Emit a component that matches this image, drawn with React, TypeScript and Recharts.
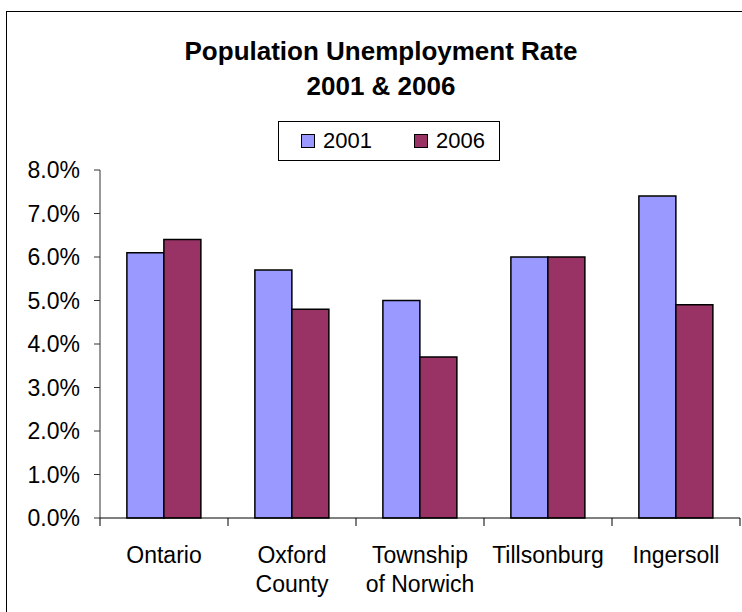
import React from 'react';
import { BarChart, Bar, XAxis, YAxis } from 'recharts';

const categories = ['Ontario', 'Oxford\nCounty', 'Township\nof Norwich', 'Tillsonburg', 'Ingersoll'];
const rate2001 = [6.1, 5.7, 5.0, 6.0, 7.4];
const rate2006 = [6.4, 4.8, 3.7, 6.0, 4.9];
const yTicks = [0, 1, 2, 3, 4, 5, 6, 7, 8];
const seriesNames = ['2001', '2006'];
const colors = ['#9999FF', '#993366'];

const data = categories.map((c, i) => ({ name: c, y2001: rate2001[i], y2006: rate2006[i] }));

const FONT = 'Arial, "Liberation Sans", sans-serif';

const XTick = (props: any) => {
  const { x, y, payload, width, visibleTicksCount, index } = props;
  const band = width / visibleTicksCount;
  const lines = String(payload.value).split('\n');
  const axisY = y - 8;
  return (
    <g>
      <line x1={x - band / 2} x2={x - band / 2} y1={axisY} y2={axisY + 8} stroke="#000" />
      {index === visibleTicksCount - 1 && (
        <line x1={x + band / 2} x2={x + band / 2} y1={axisY} y2={axisY + 8} stroke="#000" />
      )}
      <text x={x} y={axisY + 45} textAnchor="middle" fontFamily={FONT} fontSize={23} fill="#000">
        {lines.map((l, i) => (
          <tspan key={i} x={x} dy={i === 0 ? 0 : 29}>{l}</tspan>
        ))}
      </text>
    </g>
  );
};

const LegendBox = () => (
  <div
    style={{
      position: 'absolute',
      left: 278,
      top: 121,
      width: 220,
      height: 38,
      border: '1px solid #000',
      background: '#fff',
      display: 'flex',
      alignItems: 'center',
      fontFamily: FONT,
      fontSize: 22,
    }}
  >
    {seriesNames.map((n, i) => (
      <div key={n} style={{ display: 'flex', alignItems: 'center', marginLeft: i === 0 ? 22 : 42 }}>
        <div style={{ width: 12, height: 12, background: colors[i], border: '1px solid #000', marginRight: 8 }} />
        <span>{n}</span>
      </div>
    ))}
  </div>
);

export default function App() {
  return (
    <div style={{ position: 'absolute', left: 0, top: 0, width: 742, height: 612, overflow: 'hidden', background: '#fff' }}>
      <div style={{ position: 'absolute', left: 6, top: 11, width: 800, height: 700, border: '1px solid #000' }} />
      <div
        style={{
          position: 'absolute',
          left: 0,
          top: 34,
          width: 762,
          textAlign: 'center',
          fontFamily: FONT,
          fontWeight: 'bold',
          fontSize: 26,
          lineHeight: '35px',
        }}
      >
        Population Unemployment Rate
        <br />
        2001 &amp; 2006
      </div>
      <div style={{ position: 'absolute', left: 0, top: 0 }}>
        <BarChart
          width={742}
          height={612}
          data={data}
          margin={{ top: 170, right: 2, bottom: 0, left: 0 }}
          barCategoryGap="21%"
          barGap={0}
        >
          <YAxis
            width={100}
            domain={[0, 8]}
            ticks={yTicks}
            tickFormatter={(v: number) => v.toFixed(1) + '%'}
            axisLine={{ stroke: '#333' }}
            tickLine={{ stroke: '#333' }}
            tickSize={6}
            tickMargin={14}
            tick={{ fontFamily: FONT, fontSize: 23, fill: '#000' }}
            interval={0}
          />
          <XAxis
            dataKey="name"
            height={94}
            axisLine={{ stroke: '#000' }}
            tickLine={false}
            tick={<XTick />}
            tickSize={0}
            tickMargin={8}
            interval={0}
          />
          <Bar dataKey="y2001" name="2001" fill={colors[0]} stroke="#000" strokeWidth={1.5} isAnimationActive={false} />
          <Bar dataKey="y2006" name="2006" fill={colors[1]} stroke="#000" strokeWidth={1.5} isAnimationActive={false} />
        </BarChart>
      </div>
      <LegendBox />
    </div>
  );
}
